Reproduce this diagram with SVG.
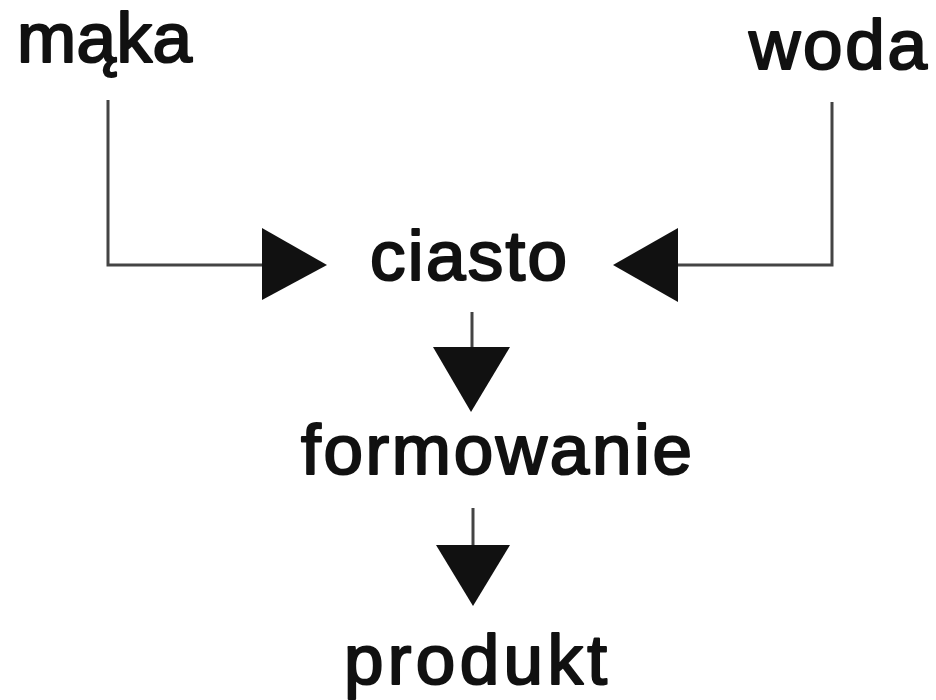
<svg xmlns="http://www.w3.org/2000/svg" width="936" height="700" viewBox="0 0 936 700">
  <style>
    .lbl { font-family: "Liberation Sans", Arial, sans-serif; font-size: 71px; fill: #111; stroke: #111; stroke-width: 2.2; stroke-linejoin: round; }
    .line { fill: none; stroke: #444; stroke-width: 3; }
    .head { fill: #111; }
  </style>
  <rect width="936" height="700" fill="#fff"/>
  <g id="connectors">
    <path class="line" d="M108,100 V265 H264"/>
    <polygon class="head" points="262,228 327,265 262,300"/>
    <path class="line" d="M832,102 V265 H676"/>
    <polygon class="head" points="678,228 613,265 678,302"/>
    <path class="line" d="M472,312 V349"/>
    <polygon class="head" points="433,347 510,347 471,412"/>
    <path class="line" d="M473,508 V547"/>
    <polygon class="head" points="436,545 510,545 473,606"/>
  </g>
  <g id="maka"><text class="lbl" x="17" y="62" textLength="175">mąka</text></g>
  <g id="woda"><text class="lbl" x="749" y="69" textLength="178">woda</text></g>
  <g id="ciasto"><text class="lbl" x="370" y="280" textLength="197">ciasto</text></g>
  <g id="formowanie"><text class="lbl" x="301" y="474" textLength="391">formowanie</text></g>
  <g id="produkt"><text class="lbl" x="344" y="684" textLength="263">produkt</text></g>
</svg>
